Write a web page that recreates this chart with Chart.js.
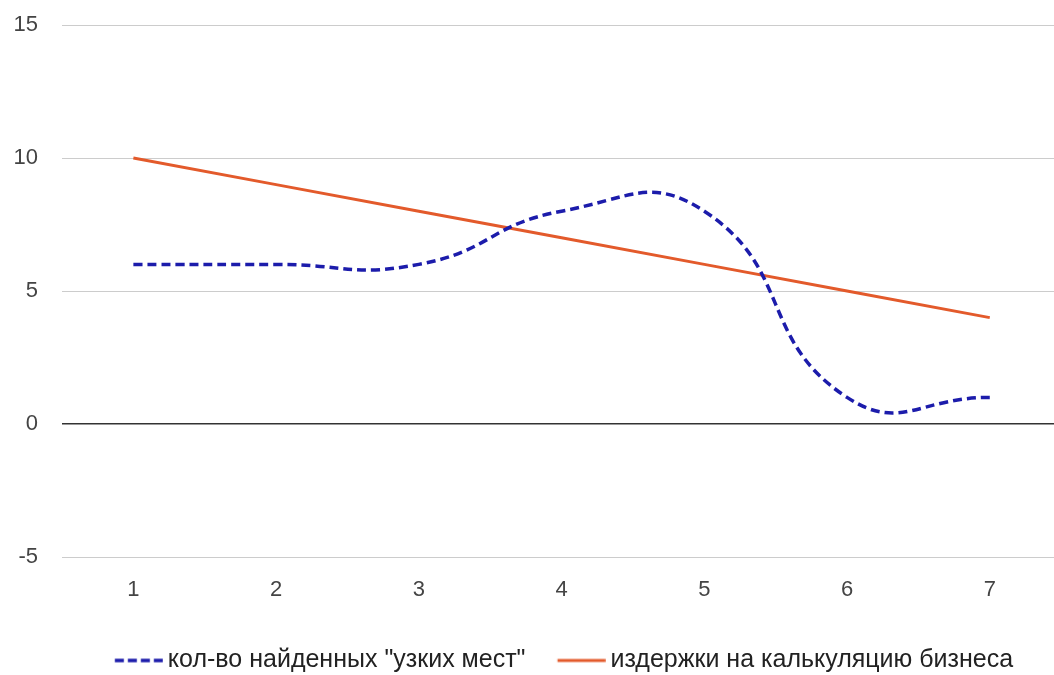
<!DOCTYPE html>
<html>
<head>
<meta charset="utf-8">
<script src="https://cdn.jsdelivr.net/npm/chart.js@4/dist/chart.umd.min.js"></script>
<style>
html,body{margin:0;padding:0;background:#fff;}
#wrap{width:1054px;height:675px;}
</style>
</head>
<body>
<div id="wrap"><canvas id="c" width="1054" height="675"></canvas></div>
<script>
const categories = [1, 2, 3, 4, 5, 6, 7];
const bottlenecks = [6, 6, 6, 8, 8, 1, 1];
const costs = [10, 9, 8, 7, 6, 5, 4];
const yTicks = [-5, 0, 5, 10, 15];
const seriesNames = ['кол-во найденных "узких мест"', 'издержки на калькуляцию бизнеса'];

const FONT = 'Liberation Sans, Arial, sans-serif';
const BLUE = '#1c1cab';
const RED = '#e35a2b';

// legend swatch: 48px line, placed so the text follows 5px after it
function legendSwatch(color, width, dash) {
  const c = document.createElement('canvas');
  c.width = 56; c.height = 6;
  const g = c.getContext('2d');
  g.strokeStyle = color;
  g.lineWidth = width;
  g.setLineDash(dash);
  g.beginPath();
  g.moveTo(7.75, 3);
  g.lineTo(55.75, 3);
  g.stroke();
  return c;
}

const legendFix = {
  id: 'legendFix',
  beforeLayout(chart) {
    const lg = chart.legend;
    if (lg && !lg._fixed) {
      const f = lg.fit.bind(lg);
      lg.fit = function () { f(); this.height = 59; };
      lg._fixed = true;
    }
  },
  afterLayout(chart) {
    const lg = chart.legend;
    if (!lg) return;
    const dx = 37;
    lg.left += dx; lg.right += dx;
  }
};

new Chart(document.getElementById('c'), {
  type: 'line',
  data: {
    datasets: [
      {
        label: seriesNames[0],
        data: categories.map((c, i) => ({x: c, y: bottlenecks[i]})),
        borderColor: BLUE,
        backgroundColor: BLUE,
        borderWidth: 3.5,
        borderDash: [9, 5],
        tension: 0.5,
        pointRadius: 0,
        pointStyle: legendSwatch(BLUE, 3.5, [9, 4])
      },
      {
        label: seriesNames[1],
        data: categories.map((c, i) => ({x: c, y: costs[i]})),
        borderColor: RED,
        backgroundColor: RED,
        borderWidth: 3,
        tension: 0,
        pointRadius: 0,
        pointStyle: legendSwatch(RED, 3, [])
      }
    ]
  },
  options: {
    responsive: false,
    animation: false,
    layout: {padding: {top: 25, right: 0, left: 0, bottom: 0}},
    plugins: {
      tooltip: {enabled: false},
      legend: {
        position: 'bottom',
        labels: {
          usePointStyle: true,
          pointStyleWidth: 40.5,
          boxHeight: 6,
          padding: 32,
          color: '#222',
          font: {family: FONT, size: 25}
        }
      }
    },
    scales: {
      x: {
        type: 'linear',
        min: 0.5,
        max: 7.45,
        afterBuildTicks: s => { s.ticks = categories.map(v => ({value: v})); },
        afterFit: s => { s.height = 59; s.paddingLeft = 0; s.paddingRight = 0; },
        grid: {display: false, drawTicks: false},
        border: {display: false},
        ticks: {
          color: '#444',
          padding: 20,
          font: {family: FONT, size: 22},
          callback: v => String(v)
        }
      },
      y: {
        min: -5,
        max: 15,
        afterBuildTicks: s => { s.ticks = yTicks.map(v => ({value: v})); },
        afterFit: s => { s.width = 62; s.paddingTop = 0; s.paddingBottom = 0; },
        border: {display: false},
        grid: {
          drawTicks: false,
          color: ctx => ctx.tick && ctx.tick.value === 0 ? '#333' : '#cccccc',
          lineWidth: ctx => ctx.tick && ctx.tick.value === 0 ? 1.5 : 1
        },
        ticks: {
          color: '#444',
          padding: 24,
          font: {family: FONT, size: 22},
          callback: v => String(v)
        }
      }
    }
  },
  plugins: [legendFix]
});
</script>
</body>
</html>
